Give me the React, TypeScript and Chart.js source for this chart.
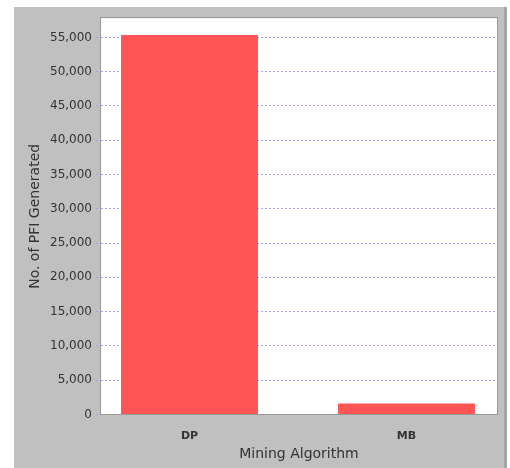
import { useEffect, useRef } from "react";
import { Chart, registerables } from "chart.js";

Chart.register(...registerables);

const categories = ["DP", "MB"];
const pfiGenerated = [55350, 1600];
const yTickValues = [0, 5000, 10000, 15000, 20000, 25000, 30000, 35000, 40000, 45000, 50000, 55000];
const yMax = 57800;
const xMin = -0.4078;
const xMax = 1.4171;
const xTitle = "Mining Algorithm";
const yTitle = "No. of PFI Generated";

const FONT = "'DejaVu Sans', sans-serif";

const plotFrame = {
  id: "plotFrame",
  beforeDraw(chart: any) {
    const { ctx, chartArea: a } = chart;
    ctx.save();
    ctx.fillStyle = "#ffffff";
    ctx.fillRect(a.left, a.top, a.right - a.left, a.bottom - a.top);
    ctx.restore();
  },
  afterDraw(chart: any) {
    const { ctx, chartArea: a } = chart;
    ctx.save();
    ctx.strokeStyle = "#9a9a9a";
    ctx.lineWidth = 1;
    ctx.strokeRect(
      Math.round(a.left) - 0.5,
      Math.round(a.top) - 0.5,
      Math.round(a.right - a.left) + 1,
      Math.round(a.bottom - a.top) + 1
    );
    ctx.restore();
  },
};

export default function App() {
  const ref = useRef<HTMLCanvasElement | null>(null);

  useEffect(() => {
    if (!ref.current) return;
    const chart = new Chart(ref.current, {
      type: "bar",
      data: {
        datasets: [
          {
            label: yTitle,
            data: categories.map((c, i) => ({ x: i, y: pfiGenerated[i] })),
            backgroundColor: "#ff5555",
            borderWidth: 0,
            categoryPercentage: 1,
            barPercentage: 0.631,
          },
        ],
      },
      options: {
        animation: false,
        responsive: false,
        devicePixelRatio: 1,
        layout: { padding: { top: 8, right: 7, left: 0, bottom: 0 } },
        plugins: {
          legend: { display: false },
          tooltip: { enabled: false },
        },
        scales: {
          x: {
            type: "linear",
            min: xMin,
            max: xMax,
            offset: false,
            bounds: "data",
            afterBuildTicks: (s: any) => {
              s.ticks = categories.map((_, i) => ({ value: i }));
            },
            afterFit: (s: any) => {
              s.height = 53.5;
            },
            ticks: {
              callback: (v: any) => categories[v as number] ?? "",
              font: { family: FONT, size: 11, weight: "bold" },
              color: "#333333",
              padding: 6.9,
              autoSkip: false,
              maxRotation: 0,
              includeBounds: false,
            },
            grid: { display: false, offset: false },
            border: { display: false },
            title: {
              display: true,
              text: xTitle,
              font: { family: FONT, size: 14 },
              color: "#333333",
              padding: { top: 0, bottom: 5.6 },
            },
          },
          y: {
            type: "linear",
            min: 0,
            max: yMax,
            afterBuildTicks: (s: any) => {
              s.ticks = yTickValues.map((v) => ({ value: v }));
            },
            afterFit: (s: any) => {
              s.width = 87;
            },
            ticks: {
              callback: (v: any) => Number(v).toLocaleString("en-US"),
              font: { family: FONT, size: 12 },
              color: "#333333",
              padding: 4,
              autoSkip: false,
            },
            grid: {
              color: "#a0a0ff",
              lineWidth: 1,
              tickLength: 5,
              tickBorderDash: [2, 2],
            },
            border: { display: false, dash: [2, 2] },
            title: {
              display: true,
              text: yTitle,
              font: { family: FONT, size: 14 },
              color: "#333333",
              padding: { top: 13.1, bottom: 0 },
            },
          },
        },
      },
      plugins: [plotFrame],
    } as any);
    return () => chart.destroy();
  }, []);

  return (
    <div
      style={{
        position: "absolute",
        left: 14,
        top: 7,
        width: 490,
        height: 461,
        background: "#c0c0c0",
        borderRight: "3px solid #a4a4a4",
      }}
    >
      <canvas ref={ref} width={490} height={461} style={{ display: "block" }} />
    </div>
  );
}
